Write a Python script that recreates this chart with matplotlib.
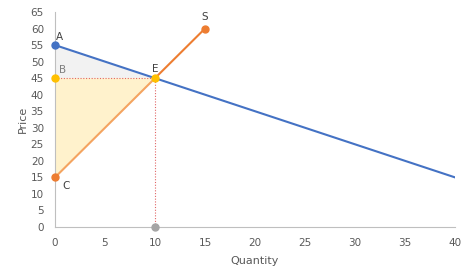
import matplotlib.pyplot as plt

# demand and supply curves
demand_q = [0, 40]
demand_p = [55, 15]
supply_low_q = [0, 10]
supply_low_p = [15, 45]
supply_high_q = [10, 15]
supply_high_p = [45, 60]

# triangles: consumer surplus (A-B-E) and producer surplus (B-C-E)
cs_q = [0, 0, 10]
cs_p = [55, 45, 45]
ps_q = [0, 0, 10]
ps_p = [45, 15, 45]

eq_q = 10
eq_p = 45

x_ticks = list(range(0, 41, 5))
y_ticks = list(range(0, 66, 5))

fig = plt.figure(figsize=(4.68, 2.75), dpi=100)
ax = fig.add_axes([55 / 468, 48 / 275, 400 / 468, 215 / 275])

ax.fill(cs_q, cs_p, color="#f2f2f2", lw=0, zorder=1)
ax.fill(ps_q, ps_p, color="#fff2cc", lw=0, zorder=1)

ax.plot([0, eq_q], [eq_p, eq_p], color="#e06666", lw=0.8, ls=(0, (1, 1.5)), zorder=2)
ax.plot([eq_q, eq_q], [0, eq_p], color="#e06666", lw=0.8, ls=(0, (1, 1.5)), zorder=2)

ax.plot(demand_q, demand_p, color="#4472c4", lw=1.5, zorder=3)
ax.plot(supply_low_q, supply_low_p, color="#f4a460", lw=1.5, zorder=3)
ax.plot(supply_high_q, supply_high_p, color="#ed7d31", lw=1.5, zorder=3)

pts = [(0, 55, "#4472c4"), (0, 15, "#ed7d31"), (15, 60, "#ed7d31"),
       (0, 45, "#ffc000"), (eq_q, eq_p, "#ffc000"), (eq_q, 0, "#a5a5a5")]
for q, p, c in pts:
    ax.plot(q, p, "o", color=c, ms=5, zorder=5, clip_on=False)

lab = dict(fontsize=7.5, color="#404040")
ax.text(0.1, 56.5, "A", **lab)
ax.text(0.35, 46.5, "B", fontsize=7.5, color="#7f7f7f")
ax.text(10, 47, "E", ha="center", **lab)
ax.text(15, 62.5, "S", ha="center", **lab)
ax.text(0.7, 11.5, "C", **lab)

ax.set_xlim(0, 40)
ax.set_ylim(0, 65)
ax.set_xticks(x_ticks)
ax.set_yticks(y_ticks)
ax.tick_params(length=0, labelsize=7.5, labelcolor="#595959", pad=8)
for s in ["top", "right"]:
    ax.spines[s].set_visible(False)
for s in ["left", "bottom"]:
    ax.spines[s].set_color("#bfbfbf")
ax.set_xlabel("Quantity", fontsize=8, color="#595959", labelpad=6)
ax.set_ylabel("Price", fontsize=8, color="#595959", labelpad=2)

fig.savefig("out.png", dpi=100)
